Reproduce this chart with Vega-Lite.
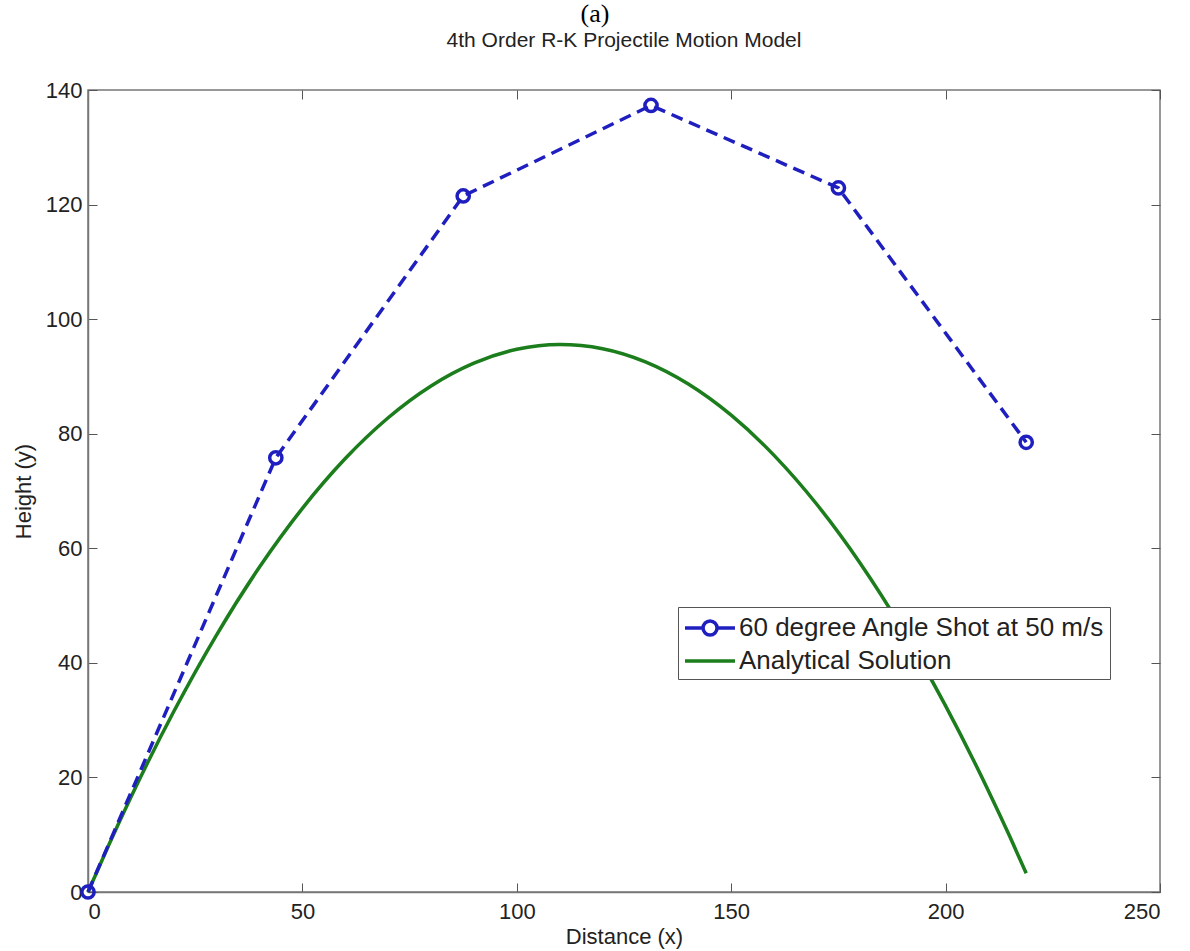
{
  "$schema": "https://vega.github.io/schema/vega-lite/v6.json",
  "width": 1072,
  "height": 802,
  "autosize": {"type": "none"},
  "padding": {"left": 88, "top": 90, "right": 30, "bottom": 59},
  "background": "white",
  "title": {
    "text": "(a)",
    "subtitle": "4th Order R-K Projectile Motion Model",
    "font": "Liberation Serif",
    "fontSize": 26,
    "fontWeight": "normal",
    "color": "#000000",
    "subtitleFont": "Liberation Sans",
    "subtitleFontSize": 21,
    "subtitleColor": "#222222",
    "subtitlePadding": 3,
    "offset": 28,
    "anchor": "middle",
    "encode": {"title": {"update": {"dx": {"value": -29}}}}
  },
  "config": {
    "view": {"stroke": "#777777", "strokeWidth": 1.5},
    "axis": {
      "grid": false,
      "labelFont": "Liberation Sans",
      "titleFont": "Liberation Sans",
      "labelFontSize": 22,
      "titleFontSize": 22,
      "labelColor": "#222222",
      "titleColor": "#222222",
      "titleFontWeight": "normal",
      "domainColor": "#777777",
      "domainWidth": 1.5,
      "tickColor": "#555555",
      "tickSize": -9
    }
  },
  "datasets": {
    "rk": [
      {"x": 0, "y": 0, "series": "60 degree Angle Shot at 50 m/s"},
      {"x": 43.8, "y": 75.8, "series": "60 degree Angle Shot at 50 m/s"},
      {"x": 87.5, "y": 121.5, "series": "60 degree Angle Shot at 50 m/s"},
      {"x": 131.3, "y": 137.3, "series": "60 degree Angle Shot at 50 m/s"},
      {"x": 175, "y": 122.9, "series": "60 degree Angle Shot at 50 m/s"},
      {"x": 218.8, "y": 78.5, "series": "60 degree Angle Shot at 50 m/s"}
    ],
    "analytic": [
      {"x": 0, "y": 0, "series": "Analytical Solution"},
      {"x": 5, "y": 8.46, "series": "Analytical Solution"},
      {"x": 10, "y": 16.54, "series": "Analytical Solution"},
      {"x": 20, "y": 31.5, "series": "Analytical Solution"},
      {"x": 30, "y": 44.9, "series": "Analytical Solution"},
      {"x": 40, "y": 56.73, "series": "Analytical Solution"},
      {"x": 50, "y": 66.98, "series": "Analytical Solution"},
      {"x": 60, "y": 75.67, "series": "Analytical Solution"},
      {"x": 70, "y": 82.79, "series": "Analytical Solution"},
      {"x": 80, "y": 88.34, "series": "Analytical Solution"},
      {"x": 90, "y": 92.32, "series": "Analytical Solution"},
      {"x": 100, "y": 94.73, "series": "Analytical Solution"},
      {"x": 110, "y": 95.57, "series": "Analytical Solution"},
      {"x": 120, "y": 94.84, "series": "Analytical Solution"},
      {"x": 130, "y": 92.54, "series": "Analytical Solution"},
      {"x": 140, "y": 88.67, "series": "Analytical Solution"},
      {"x": 150, "y": 83.23, "series": "Analytical Solution"},
      {"x": 160, "y": 76.22, "series": "Analytical Solution"},
      {"x": 170, "y": 67.64, "series": "Analytical Solution"},
      {"x": 180, "y": 57.49, "series": "Analytical Solution"},
      {"x": 190, "y": 45.78, "series": "Analytical Solution"},
      {"x": 200, "y": 32.49, "series": "Analytical Solution"},
      {"x": 210, "y": 17.64, "series": "Analytical Solution"},
      {"x": 215, "y": 9.63, "series": "Analytical Solution"},
      {"x": 218.8, "y": 3.27, "series": "Analytical Solution"}
    ]
  },
  "layer": [
    {
      "data": {"name": "analytic"},
      "mark": {"type": "line", "strokeWidth": 3.5, "interpolate": "monotone"},
      "encoding": {
        "x": {"field": "x", "type": "quantitative", "scale": {"domain": [0, 250], "nice": false},
              "axis": {"orient": "top", "labels": false, "title": null, "values": [0, 50, 100, 150, 200, 250], "domain": false}},
        "y": {"field": "y", "type": "quantitative", "scale": {"domain": [0, 140], "nice": false},
              "axis": {"orient": "right", "labels": false, "title": null, "values": [0, 20, 40, 60, 80, 100, 120, 140], "domain": false}},
        "color": {
          "field": "series", "type": "nominal",
          "scale": {"domain": ["60 degree Angle Shot at 50 m/s", "Analytical Solution"], "range": ["#1f1fc0", "#1b7d1b"]},
          "legend": {
            "orient": "none", "legendX": 590, "legendY": 517, "title": null,
            "padding": 5, "strokeColor": "#555555", "fillColor": "white",
            "labelFont": "Liberation Sans", "labelFontSize": 26, "labelColor": "#222222", "labelLimit": 600,
            "symbolSize": 784, "labelOffset": 24, "rowPadding": 2, "symbolStrokeWidth": 3.5,
            "encode": {"symbols": {"update": {
              "shape": {"signal": "datum.value === 'Analytical Solution' ? 'M-1,0H2.57' : 'M-1,0H0.29M1.29,0H2.57M1.29,0A0.5,0.5 0 1,1 0.29,0A0.5,0.5 0 1,1 1.29,0'"},
              "fill": {"value": "transparent"}
            }}}
          }
        }
      }
    },
    {
      "data": {"name": "rk"},
      "mark": {"type": "line", "strokeWidth": 3.5, "strokeDash": [12, 7]},
      "encoding": {
        "x": {"field": "x", "type": "quantitative", "scale": {"domain": [0, 250], "nice": false},
              "axis": {"title": "Distance (x)", "values": [0, 50, 100, 150, 200, 250], "labelPadding": 18, "titlePadding": 4}},
        "y": {"field": "y", "type": "quantitative", "scale": {"domain": [0, 140], "nice": false},
              "axis": {"title": "Height (y)", "values": [0, 20, 40, 60, 80, 100, 120, 140], "labelPadding": 15, "titlePadding": 10}},
        "color": {
          "field": "series", "type": "nominal",
          "scale": {"domain": ["60 degree Angle Shot at 50 m/s", "Analytical Solution"], "range": ["#1f1fc0", "#1b7d1b"]},
          "legend": {
            "orient": "none", "legendX": 590, "legendY": 517, "title": null,
            "padding": 5, "strokeColor": "#555555", "fillColor": "white",
            "labelFont": "Liberation Sans", "labelFontSize": 26, "labelColor": "#222222", "labelLimit": 600,
            "symbolSize": 784, "labelOffset": 24, "rowPadding": 2, "symbolStrokeWidth": 3.5,
            "encode": {"symbols": {"update": {
              "shape": {"signal": "datum.value === 'Analytical Solution' ? 'M-1,0H2.57' : 'M-1,0H0.29M1.29,0H2.57M1.29,0A0.5,0.5 0 1,1 0.29,0A0.5,0.5 0 1,1 1.29,0'"},
              "fill": {"value": "transparent"}
            }}}
          }
        }
      }
    },
    {
      "data": {"name": "rk"},
      "mark": {"type": "point", "shape": "circle", "filled": false, "strokeWidth": 3.5, "size": 150, "color": "#1f1fc0", "opacity": 1},
      "encoding": {
        "x": {"field": "x", "type": "quantitative", "scale": {"domain": [0, 250], "nice": false}, "axis": null},
        "y": {"field": "y", "type": "quantitative", "scale": {"domain": [0, 140], "nice": false}, "axis": null}
      }
    }
  ],
  "resolve": {"axis": {"x": "independent", "y": "independent"}}
}
